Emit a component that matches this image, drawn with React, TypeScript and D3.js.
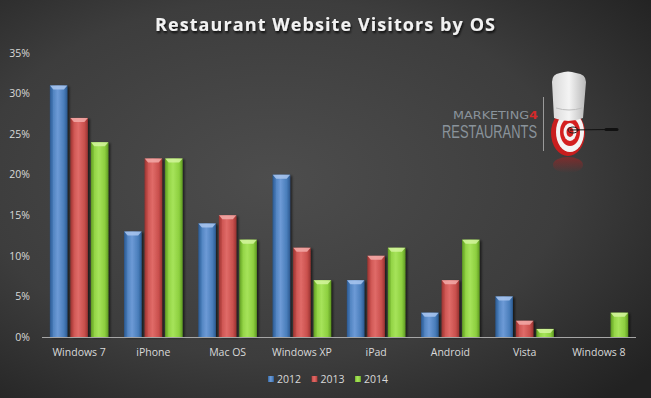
import React from "react";
import * as d3 from "d3";

const categories = ["Windows 7", "iPhone", "Mac OS", "Windows XP", "iPad", "Android", "Vista", "Windows 8"];
const seriesNames = ["2012", "2013", "2014"];
const values2012 = [31, 13, 14, 20, 7, 3, 5, 0];
const values2013 = [27, 22, 15, 11, 10, 7, 2, 0];
const values2014 = [24, 22, 12, 7, 11, 12, 1, 3];
const yTicks = [0, 5, 10, 15, 20, 25, 30, 35];

const seriesValues = [values2012, values2013, values2014];
const seriesColors = [
  { base: "#4a7ebb", dark: "#2c5a91", light: "#6d9ad6", cap: "#a9c6ee" },
  { base: "#c9504d", dark: "#9a3331", light: "#e06b68", cap: "#f2aaa8" },
  { base: "#8dcf3f", dark: "#5f9a22", light: "#a6e35a", cap: "#d3f59d" },
];

const W = 651;
const H = 398;
const plotLeft = 42;
const plotRight = 636;
const plotBottom = 337;
const plotTop = 53;

export default function App() {
  const x = d3.scaleBand<string>().domain(categories).range([plotLeft, plotRight]).padding(0);
  const inner = d3
    .scaleBand<string>()
    .domain(seriesNames)
    .range([0, x.bandwidth()])
    .paddingInner(0.146)
    .paddingOuter(0.385);
  const y = d3.scaleLinear().domain([0, 35]).range([plotBottom, plotTop]);
  const bw = inner.bandwidth();

  return (
    <svg width={W} height={H} style={{ display: "block", position: "absolute", left: 0, top: 0 }}>
      <defs>
        <radialGradient id="bg" cx="0.42" cy="0.45" r="0.75">
          <stop offset="0" stopColor="#4d4d4d" />
          <stop offset="0.6" stopColor="#3d3d3d" />
          <stop offset="1" stopColor="#222222" />
        </radialGradient>
        {seriesColors.map((c, i) => (
          <linearGradient key={i} id={`bar${i}`} x1="0" x2="1" y1="0" y2="0">
            <stop offset="0" stopColor={c.dark} />
            <stop offset="0.12" stopColor={c.base} />
            <stop offset="0.45" stopColor={c.light} />
            <stop offset="0.8" stopColor={c.base} />
            <stop offset="1" stopColor={c.dark} />
          </linearGradient>
        ))}
        <filter id="tshadow" x="-5%" y="-30%" width="110%" height="160%">
          <feDropShadow dx="1" dy="2" stdDeviation="1.2" floodColor="#000" floodOpacity="0.8" />
        </filter>
        <filter id="bshadow" x="-30%" y="-5%" width="160%" height="110%">
          <feDropShadow dx="2" dy="1" stdDeviation="1.2" floodColor="#000" floodOpacity="0.55" />
        </filter>
        <linearGradient id="hat" x1="0" x2="1" y1="0" y2="0">
          <stop offset="0" stopColor="#d8d8d8" />
          <stop offset="0.5" stopColor="#f4f4f4" />
          <stop offset="1" stopColor="#b8b8b8" />
        </linearGradient>
        <linearGradient id="refl" x1="0" x2="0" y1="0" y2="1">
          <stop offset="0" stopColor="#b02020" stopOpacity="0.55" />
          <stop offset="1" stopColor="#b02020" stopOpacity="0" />
        </linearGradient>
      </defs>
      <rect x={0} y={0} width={W} height={H} fill="url(#bg)" />

      <text
        x={325}
        y={31}
        textAnchor="middle"
        fill="#f2f2f2"
        fontFamily="'Open Sans', sans-serif"
        fontWeight="bold"
        fontSize={18}
        textLength={340}
        lengthAdjust="spacing"
        filter="url(#tshadow)"
      >
        Restaurant Website Visitors by OS
      </text>

      {yTicks.map((t) => (
        <text
          key={t}
          x={30}
          y={y(t)}
          dy="0.35em"
          textAnchor="end"
          fill="#d9d9d9"
          fontFamily="'Open Sans', sans-serif"
          fontSize={10.5}
        >
          {t}%
        </text>
      ))}

      {categories.map((cat, ci) => (
        <g key={cat}>
          {seriesValues.map((vals, si) => {
            const v = vals[ci];
            if (v <= 0) return null;
            const bx = (x(cat) as number) + (inner(seriesNames[si]) as number);
            const by = y(v);
            const bh = plotBottom - by;
            const c = seriesColors[si];
            const capH = Math.min(4, bh / 2);
            return (
              <g key={si}>
                <rect x={bx} y={by} width={bw} height={bh} fill={`url(#bar${si})`} filter="url(#bshadow)" />
                <polygon
                  points={`${bx},${by} ${bx + bw},${by} ${bx + bw - 3.5},${by + capH} ${bx + 3.5},${by + capH}`}
                  fill={c.cap}
                  opacity={0.85}
                />
                <polygon
                  points={`${bx},${by} ${bx + 3},${by + capH} ${bx + 3},${plotBottom} ${bx},${plotBottom}`}
                  fill={c.dark}
                  opacity={0.35}
                />
              </g>
            );
          })}
          <text
            x={(x(cat) as number) + x.bandwidth() / 2}
            y={356}
            textAnchor="middle"
            fill="#d9d9d9"
            fontFamily="'Open Sans', sans-serif"
            fontSize={10.5}
          >
            {cat}
          </text>
        </g>
      ))}

      <line x1={plotLeft} x2={plotRight} y1={plotBottom + 0.5} y2={plotBottom + 0.5} stroke="#a6a6a6" strokeWidth={1} />

      {seriesNames.map((name, i) => {
        const lx = 268 + i * 43.5;
        return (
          <g key={name}>
            <rect x={lx} y={376} width={6} height={6} fill={`url(#bar${i})`} />
            <text
              x={lx + 9}
              y={379}
              dy="0.35em"
              fill="#d9d9d9"
              fontFamily="'Open Sans', sans-serif"
              fontSize={10.5}
            >
              {name}
            </text>
          </g>
        );
      })}

      {/* Logo */}
      <g>
        <text
          x={453}
          y={119}
          fill="#8a939b"
          fontFamily="'DejaVu Sans', sans-serif"
          fontSize={10}
          textLength={85}
          lengthAdjust="spacingAndGlyphs"
        >
          MARKETING<tspan fill="#d42a2a" fontWeight="bold">4</tspan>
        </text>
        <text
          x={442}
          y={138}
          fill="#8a939b"
          fontFamily="'Liberation Sans Narrow', 'Liberation Sans', sans-serif"
          fontSize={18}
          textLength={95}
          lengthAdjust="spacingAndGlyphs"
        >
          RESTAURANTS
        </text>
        <line x1={543.5} x2={543.5} y1={97} y2={151} stroke="#9a9a9a" strokeWidth={1} />
        <ellipse cx={568} cy={165} rx={15} ry={8} fill="url(#refl)" />
        <ellipse cx={568} cy={133} rx={17} ry={23} fill="#c81e1e" />
        <ellipse cx={570} cy={132} rx={14} ry={20} fill="#f4f4f4" />
        <ellipse cx={570} cy={132} rx={10} ry={14} fill="#d42020" />
        <ellipse cx={570} cy={132} rx={6.5} ry={9} fill="#f4f4f4" />
        <ellipse cx={570} cy={132} rx={3.5} ry={5} fill="#d42020" />
        <path
          d="M554,118 L552,82 Q552,74 560,73 Q568,70 576,73 Q586,74 586,82 L583,118 Q568,124 554,118 Z"
          fill="url(#hat)"
        />
        <path d="M556,108 Q569,112 582,108" stroke="#bdbdbd" strokeWidth={1} fill="none" />
        <ellipse cx={573} cy={130} rx={5} ry={3} fill="none" stroke="#222" strokeWidth={1} />
        <line x1={570} x2={608} y1={130} y2={129.5} stroke="#111" strokeWidth={1.2} />
        <line x1={606} x2={617} y1={129.5} y2={129.5} stroke="#111" strokeWidth={3} strokeLinecap="round" />
      </g>
    </svg>
  );
}
